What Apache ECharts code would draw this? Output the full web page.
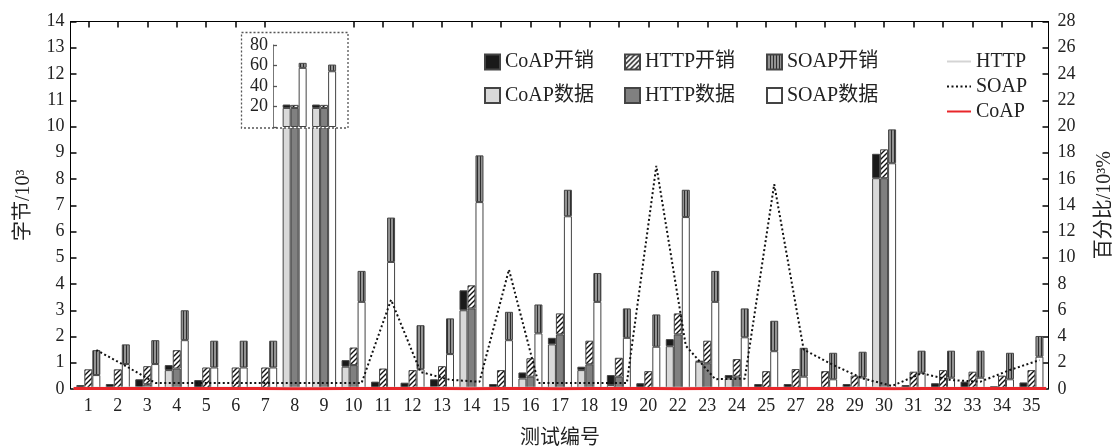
<!DOCTYPE html>
<html><head><meta charset="utf-8">
<script src="https://cdn.jsdelivr.net/npm/echarts@6/dist/echarts.min.js"></script>
<style>html,body{margin:0;padding:0;background:#fff}#c{width:1118px;height:447px}</style>
</head><body><div id="c"></div>
<script>
// ---------- data ----------
const categories = ['1','2','3','4','5','6','7','8','9','10','11','12','13','14','15','16','17','18','19','20','22','23','24','25','27','28','29','30','31','32','33','34','35'];
// bytes / 10^3
const coapData = [0,0,0,0.72,0,0,0,18.6,18.6,0.85, 0,0,0,3.0,0,0.4,1.7,0.72,0.15,0, 1.63,1.04,0.4,0,0,0,0,8.03,0,0, 0,0,0];
const coapOver = [0.15,0.19,0.37,0.19,0.34,0,0,3.3,3.3,0.25, 0.28,0.24,0.37,0.76,0.19,0.23,0.25,0.13,0.38,0.22, 0.27,0.03,0.13,0.19,0.19,0,0.19,0.93,0.15,0.22, 0.28,0.11,0.25];
const httpData = [0,0,0.18,0.78,0,0,0,18.6,18.6,0.91, 0,0,0,3.07,0,0.47,2.08,0.94,0.47,0, 2.08,0.98,0.47,0,0,0,0,8.03,0,0, 0,0,0];
const httpOver = [0.75,0.75,0.69,0.70,0.82,0.82,0.82,3.0,3.0,0.67, 0.78,0.72,0.87,0.88,0.72,0.70,0.80,0.90,0.72,0.68, 0.80,0.86,0.67,0.68,0.76,0.68,0.51,1.10,0.66,0.72, 0.66,0.51,0.72];
const soapData = [0.53,0.95,0.95,1.86,0.82,0.82,0.82,57.7,54.4,3.32, 4.84,0.75,1.33,7.12,1.86,2.12,6.58,3.32,1.95,1.61, 6.55,3.32,1.97,1.44,0.47,0.37,0.44,8.6,0.62,0.43, 0.43,0.37,1.23];
const soapOver = [0.95,0.75,0.91,1.14,1.02,1.02,1.02,4.9,6.5,1.18, 1.69,1.68,1.36,1.78,1.08,1.10,1.01,1.10,1.12,1.23, 1.04,1.18,1.10,1.16,1.10,1.01,0.98,1.29,0.84,1.03, 1.03,1.01,0.79];
// percentage / 10^3 %
const soapPct = [2.97,1.75,0.46,0.46,0.46,0.46,0.46,0.46,0.46,0.46, 6.8,1.3,0.7,0.55,9.1,0.45,0.45,0.45,0.45,17.0, 3.3,0.75,0.78,15.6,3.0,1.83,0.81,0.23,1.2,0.68, 0.56,1.45,2.2];
const httpPct = [0.08,0.08,0.09,0.08,0.08,0.08,0.08,0.07,0.07,0.08, 0.08,0.08,0.09,0.07,0.08,0.08,0.07,0.08,0.08,0.08, 0.07,0.08,0.08,0.08,0.08,0.08,0.09,0.07,0.08,0.08, 0.08,0.08,0.08];
const coapPct = [0.03,0.03,0.03,0.03,0.03,0.03,0.03,0.02,0.02,0.03, 0.03,0.03,0.03,0.02,0.03,0.03,0.02,0.03,0.03,0.03, 0.02,0.03,0.03,0.03,0.03,0.03,0.03,0.02,0.03,0.03, 0.03,0.03,0.03];
const leftAxis = {min:0, max:14, interval:1};
const rightAxis = {min:0, max:28, interval:2};
const insetAxis = {min:0, max:80, interval:20};
const insetFrom = 7, insetTo = 9;   // categories 8 and 9

// ---------- layout ----------
const W = 1118, H = 447;
const GRID_L = 73.6, GRID_R = 1046.2, GRID_T = 21.5, GRID_B = 389;
const FRAME_L = 70.5, FRAME_R = 1048.5;
const BAR_W = 8;
const band = (GRID_R - GRID_L) / categories.length;
const soapShift = BAR_W / band;
const FONT = "'Liberation Serif','Noto Sans CJK SC',serif";
const TXT = '#222';

function hatchCanvas(){
  const s = 5, c = document.createElement('canvas'); c.width = s; c.height = s;
  const g = c.getContext('2d');
  g.fillStyle = '#fff'; g.fillRect(0,0,s,s);
  g.strokeStyle = '#111'; g.lineWidth = 1.4; g.beginPath();
  g.moveTo(0,s); g.lineTo(s,0);
  g.moveTo(-1,1); g.lineTo(1,-1);
  g.moveTo(s-1,s+1); g.lineTo(s+1,s-1);
  g.stroke(); return c;
}
function stripeCanvas(){
  const c = document.createElement('canvas'); c.width = 3; c.height = 3;
  const g = c.getContext('2d');
  g.fillStyle = '#929292'; g.fillRect(0,0,3,3);
  g.fillStyle = '#2e2e2e'; g.fillRect(0,0,1,3);
  return c;
}
const hatch = {image: hatchCanvas(), repeat: 'repeat'};
const stripes = {image: stripeCanvas(), repeat: 'repeat'};

const barStyles = [
  {name:'CoAP数据', stack:'coap', data:coapData, color:'#d9d9d9'},
  {name:'CoAP开销', stack:'coap', data:coapOver, color:'#1a1a1a'},
  {name:'HTTP数据', stack:'http', data:httpData, color:'#808080'},
  {name:'HTTP开销', stack:'http', data:httpOver, color:hatch},
  {name:'SOAP数据', stack:'soap', data:soapData, color:'#ffffff'},
  {name:'SOAP开销', stack:'soap', data:soapOver, color:stripes}
];

// axis indices
const X_MAIN = 0, X_EDGE = 1, X_SOAP = 2, X_INSET = 3, X_BOTTOM = 4, X_TOP = 5;
const Y_MAIN = 0, Y_PCT = 1, Y_INSET = 2, Y_LEFT = 3, Y_RIGHT = 4;

const series = [];
barStyles.forEach(b => series.push({
  type:'bar', name:b.name, stack:b.stack, data:b.data,
  xAxisIndex:X_MAIN, yAxisIndex:Y_MAIN, barWidth:BAR_W, barGap:'0%',
  itemStyle:{color:b.color, borderColor:'#444', borderWidth:1},
  emphasis:{disabled:true}, z:2
}));
barStyles.forEach(b => series.push({
  type:'bar', name:b.name, stack:b.stack + '_in', data:b.data.slice(insetFrom, insetTo),
  xAxisIndex:X_INSET, yAxisIndex:Y_INSET, barWidth:BAR_W, barGap:'0%',
  itemStyle:{color:b.color, borderColor:'#444', borderWidth:1},
  emphasis:{disabled:true}, z:5
}));
series.push({
  type:'line', name:'HTTP', data:httpPct, xAxisIndex:X_EDGE, yAxisIndex:Y_PCT,
  symbol:'none', lineStyle:{color:'#d4d4d4', width:2.5}, itemStyle:{color:'#d4d4d4'}, z:3
});
series.push({
  type:'line', name:'SOAP', data:soapPct.map((v,i)=>[i,v]), xAxisIndex:X_SOAP, yAxisIndex:Y_PCT,
  symbol:'none', lineStyle:{color:'#111', width:2, type:[2,2.5]}, itemStyle:{color:'#111'}, z:3
});
series.push({
  type:'line', name:'CoAP', data:coapPct, xAxisIndex:X_EDGE, yAxisIndex:Y_PCT,
  symbol:'none', lineStyle:{color:'#e8262a', width:3}, itemStyle:{color:'#e8262a'}, z:3
});

const tickLbl = () => ({fontFamily:FONT, fontSize:18, color:TXT});
const ticks = (extra) => Object.assign({show:true, inside:true, length:6, lineStyle:{color:'#000', width:1.5}}, extra || {});
const barLegend = (names, left) => ({
  data:names, orient:'vertical', left:left, top:52, padding:0, icon:'rect',
  itemWidth:15, itemHeight:15, itemGap:13.5, selectedMode:false,
  textStyle:{fontFamily:FONT, fontSize:20, color:TXT, lineHeight:20}
});
const mainRect = {left:GRID_L, right:W-GRID_R, top:GRID_T, bottom:H-GRID_B, containLabel:false, outerBoundsMode:'none'};

const option = {
  animation:false,
  backgroundColor:'#fff',
  grid:[
    Object.assign({}, mainRect),
    {left:GRID_L + band*insetFrom, width:band*(insetTo-insetFrom), top:45, bottom:H-127, containLabel:false, outerBoundsMode:'none'},
    Object.assign({}, mainRect)
  ],
  legend:[
    barLegend(['CoAP开销','CoAP数据'], 484),
    barLegend(['HTTP开销','HTTP数据'], 624),
    barLegend(['SOAP开销','SOAP数据'], 766),
    {data:['HTTP','SOAP','CoAP'], orient:'vertical', left:946, top:51.5, padding:0,
     itemWidth:24, itemHeight:14, itemGap:5, selectedMode:false,
     itemStyle:{opacity:0},
     textStyle:{fontFamily:FONT, fontSize:20, color:TXT, lineHeight:20}}
  ],
  xAxis:[
    {type:'category', gridIndex:0, data:categories, show:false, axisLine:{onZero:false}},
    {type:'category', gridIndex:0, data:categories, boundaryGap:false, show:false, axisLine:{onZero:false}},
    {type:'value', gridIndex:0, min:-0.5 - soapShift, max:categories.length - 0.5 - soapShift, show:false, axisLine:{onZero:false}},
    {type:'category', gridIndex:1, data:categories.slice(insetFrom, insetTo), show:false, axisLine:{onZero:false}},
    {type:'category', gridIndex:2, position:'bottom', data:categories,
     axisLine:{show:true, onZero:false, lineStyle:{color:'#9fc99f', width:1}},
     axisTick:ticks({alignWithLabel:true}),
     axisLabel:Object.assign({margin:8, interval:0}, tickLbl()),
     name:'测试编号', nameLocation:'middle', nameGap:40,
     nameTextStyle:{fontFamily:FONT, fontSize:20, color:TXT}},
    {type:'category', gridIndex:2, position:'top', data:categories,
     axisLine:{show:true, onZero:false, lineStyle:{color:'#000', width:1}},
     axisTick:ticks({alignWithLabel:true}),
     axisLabel:{show:false}}
  ],
  yAxis:[
    {type:'value', gridIndex:0, min:leftAxis.min, max:leftAxis.max, interval:leftAxis.interval, show:false, splitLine:{show:false}},
    {type:'value', gridIndex:0, min:rightAxis.min, max:rightAxis.max, interval:rightAxis.interval, show:false, splitLine:{show:false}},
    {type:'value', gridIndex:1, position:'left', min:insetAxis.min, max:insetAxis.max, interval:insetAxis.interval,
     offset:GRID_L + band*insetFrom - 273, z:6, splitLine:{show:false},
     axisLine:{show:true, onZero:false, lineStyle:{color:'#777', width:1}},
     axisTick:ticks({length:4, lineStyle:{color:'#555', width:1.3}}),
     axisLabel:Object.assign({margin:5, formatter:v => v === 0 ? '' : String(v)}, tickLbl())},
    {type:'value', gridIndex:2, position:'left', min:leftAxis.min, max:leftAxis.max, interval:leftAxis.interval,
     offset:GRID_L - FRAME_L, splitLine:{show:false},
     axisLine:{show:true, onZero:false, lineStyle:{color:'#000', width:1}},
     axisTick:ticks(),
     axisLabel:Object.assign({margin:6}, tickLbl()),
     name:'字节/10³', nameLocation:'middle', nameRotate:90, nameGap:37,
     nameTextStyle:{fontFamily:FONT, fontSize:20, color:TXT}},
    {type:'value', gridIndex:2, position:'right', min:rightAxis.min, max:rightAxis.max, interval:rightAxis.interval,
     offset:FRAME_R - GRID_R, splitLine:{show:false},
     axisLine:{show:true, onZero:false, lineStyle:{color:'#000', width:1}},
     axisTick:ticks(),
     axisLabel:Object.assign({margin:9}, tickLbl()),
     name:'百分比/10³%', nameLocation:'middle', nameRotate:90, nameGap:46,
     nameTextStyle:{fontFamily:FONT, fontSize:20, color:TXT}}
  ],
  graphic:[
    {type:'rect', z:4, silent:true, shape:{x:GRID_L + band*insetFrom - 2, y:GRID_T - 6, width:band*(insetTo-insetFrom) + 4, height:18},
     style:{fill:'#fff'}},
    {type:'line', z:7, silent:true, shape:{x1:FRAME_L, y1:GRID_T, x2:FRAME_R, y2:GRID_T},
     style:{stroke:'#000', lineWidth:1}},
    {type:'rect', z:4, silent:true, shape:{x:241.5, y:32.5, width:106.5, height:95.5},
     style:{fill:'#fff', stroke:'#555', lineWidth:1.3, lineDash:[2,2]}}
  ],
  series:series
};
const chart = echarts.init(document.getElementById('c'), null, {renderer:'canvas'});
chart.setOption(option);
</script></body></html>
